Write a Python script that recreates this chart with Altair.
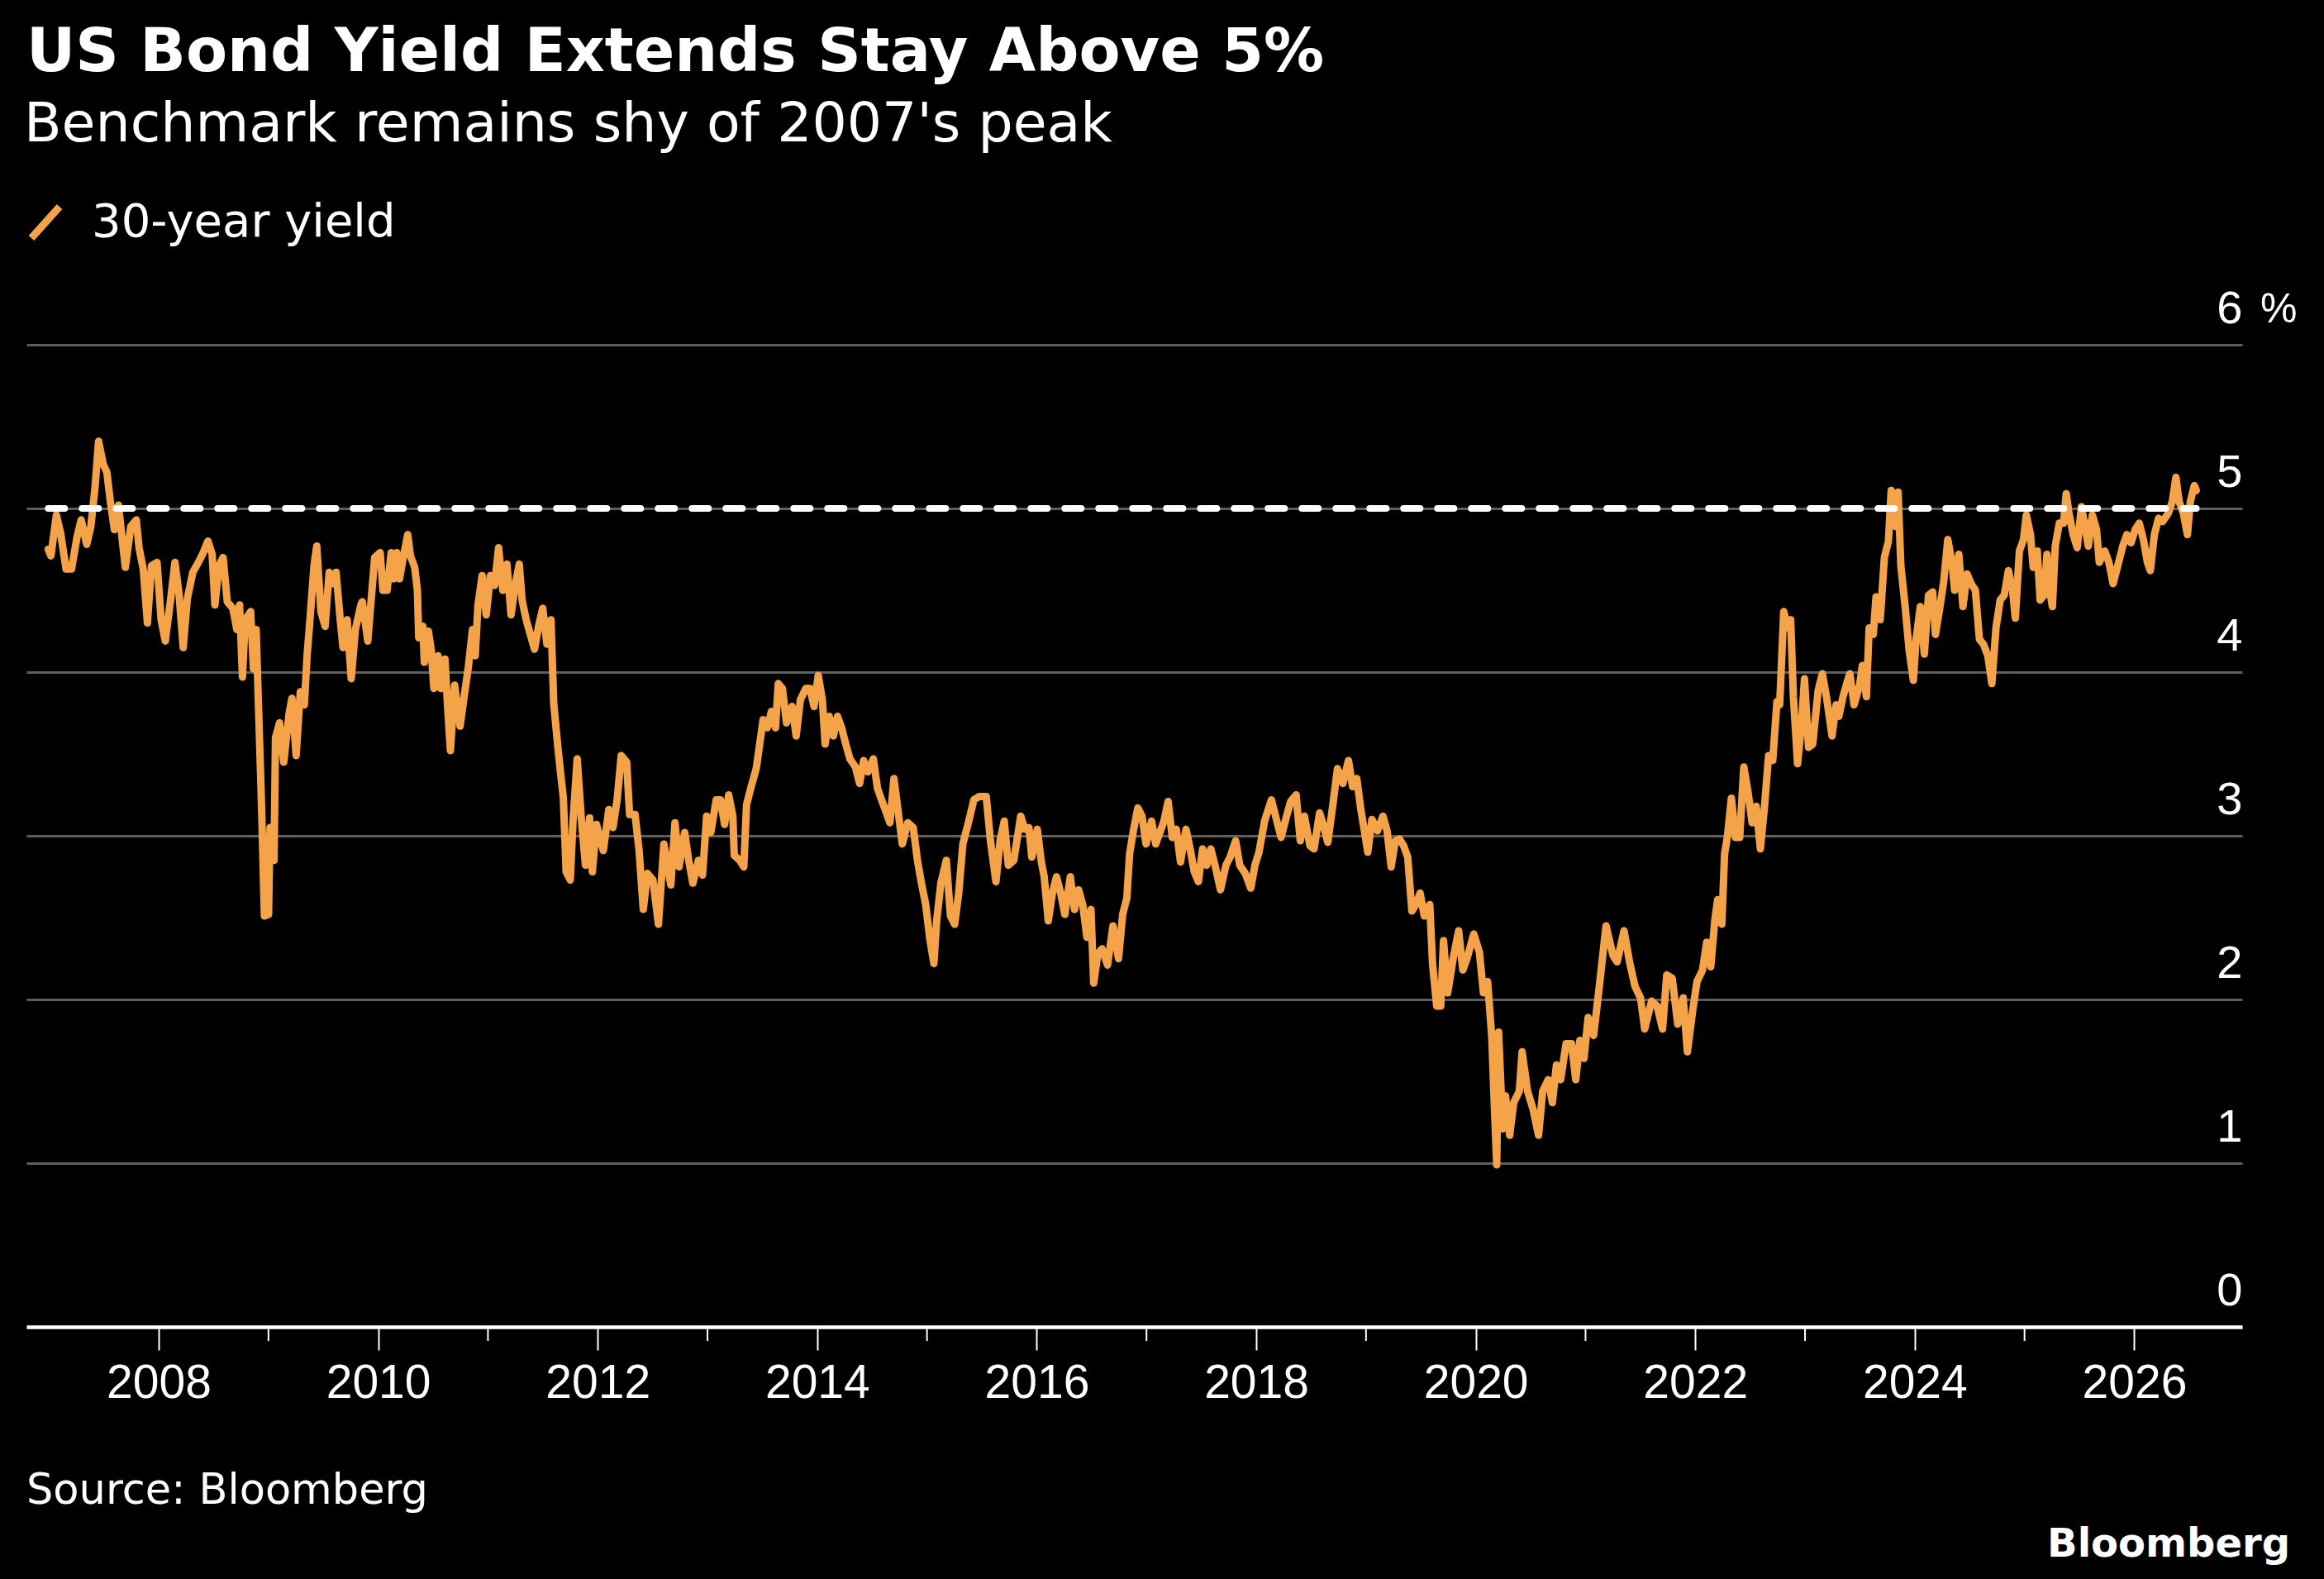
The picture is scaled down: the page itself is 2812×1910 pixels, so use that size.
import altair as alt
import pandas as pd

# 30-year US Treasury yield, % — (fractional year, yield) pairs
yield_2007_2009 = [
    (2006.993, 4.75), (2007.018, 4.71), (2007.068, 4.96), (2007.106, 4.85), (2007.156, 4.63),
    (2007.206, 4.63), (2007.257, 4.83), (2007.294, 4.93), (2007.344, 4.78), (2007.382, 4.89),
    (2007.420, 5.13), (2007.452, 5.41), (2007.495, 5.27), (2007.528, 5.22), (2007.558, 5.05),
    (2007.596, 4.87), (2007.633, 5.02), (2007.696, 4.64), (2007.746, 4.89), (2007.796, 4.93),
    (2007.821, 4.76), (2007.859, 4.63), (2007.897, 4.30), (2007.934, 4.65), (2007.985, 4.67),
    (2008.022, 4.32), (2008.060, 4.19), (2008.110, 4.45), (2008.148, 4.67), (2008.185, 4.48),
    (2008.223, 4.15), (2008.261, 4.45), (2008.311, 4.61), (2008.361, 4.67), (2008.399, 4.72),
    (2008.449, 4.80), (2008.487, 4.72), (2008.512, 4.41), (2008.549, 4.65), (2008.587, 4.70),
    (2008.625, 4.43), (2008.675, 4.39), (2008.712, 4.26), (2008.737, 4.41), (2008.763, 3.97),
    (2008.788, 4.32), (2008.838, 4.37), (2008.863, 4.02), (2008.888, 4.26), (2008.913, 3.71),
    (2008.938, 3.16), (2008.963, 2.51), (2009.001, 2.52), (2009.014, 3.05), (2009.051, 2.85),
    (2009.064, 3.60), (2009.101, 3.69), (2009.139, 3.45), (2009.189, 3.75), (2009.214, 3.84),
    (2009.252, 3.49), (2009.290, 3.88), (2009.327, 3.80), (2009.352, 4.10), (2009.378, 4.32),
    (2009.415, 4.65), (2009.440, 4.77), (2009.478, 4.37), (2009.516, 4.28), (2009.553, 4.61),
    (2009.591, 4.54), (2009.616, 4.61), (2009.654, 4.32), (2009.679, 4.15), (2009.717, 4.32),
    (2009.754, 3.96), (2009.792, 4.26), (2009.842, 4.41),
]

yield_2010_2012 = [
    (2009.855, 4.43), (2009.905, 4.19), (2009.943, 4.50), (2009.968, 4.70), (2010.018, 4.73),
    (2010.043, 4.50), (2010.081, 4.50), (2010.118, 4.73), (2010.143, 4.57), (2010.169, 4.73),
    (2010.194, 4.57), (2010.231, 4.71), (2010.269, 4.84), (2010.294, 4.71), (2010.332, 4.64),
    (2010.357, 4.50), (2010.369, 4.21), (2010.407, 4.28), (2010.420, 4.06), (2010.457, 4.25),
    (2010.482, 4.14), (2010.507, 3.90), (2010.545, 4.10), (2010.570, 3.90), (2010.608, 4.08),
    (2010.633, 3.78), (2010.658, 3.52), (2010.696, 3.92), (2010.746, 3.67), (2010.783, 3.85),
    (2010.821, 4.03), (2010.859, 4.26), (2010.884, 4.10), (2010.909, 4.41), (2010.947, 4.59),
    (2010.984, 4.35), (2011.022, 4.59), (2011.060, 4.53), (2011.097, 4.76), (2011.135, 4.50),
    (2011.173, 4.66), (2011.210, 4.35), (2011.248, 4.53), (2011.285, 4.66), (2011.311, 4.44),
    (2011.348, 4.32), (2011.386, 4.23), (2011.424, 4.14), (2011.461, 4.28), (2011.499, 4.39),
    (2011.537, 4.17), (2011.574, 4.32), (2011.599, 3.81), (2011.637, 3.54), (2011.662, 3.38),
    (2011.687, 3.23), (2011.712, 2.78), (2011.750, 2.73), (2011.775, 3.09), (2011.813, 3.47),
    (2011.850, 3.11), (2011.888, 2.82), (2011.926, 3.11), (2011.951, 2.78), (2011.988, 3.07),
    (2012.051, 2.91), (2012.101, 3.16), (2012.139, 3.05), (2012.177, 3.22), (2012.214, 3.49),
    (2012.264, 3.45), (2012.290, 3.13), (2012.340, 3.13), (2012.377, 2.91), (2012.415, 2.55),
    (2012.453, 2.77), (2012.503, 2.73), (2012.553, 2.46), (2012.603, 2.95),
]

yield_2013_2015 = [
    (2012.666, 2.70), (2012.704, 3.08), (2012.741, 2.81), (2012.792, 3.02), (2012.829, 2.85),
    (2012.867, 2.71), (2012.917, 2.85), (2012.955, 2.76), (2012.992, 3.12), (2013.030, 3.02),
    (2013.080, 3.22), (2013.118, 3.22), (2013.156, 3.07), (2013.193, 3.25), (2013.231, 3.12),
    (2013.244, 2.88), (2013.294, 2.85), (2013.331, 2.81), (2013.356, 3.19), (2013.394, 3.29),
    (2013.444, 3.41), (2013.482, 3.59), (2013.507, 3.71), (2013.545, 3.66), (2013.582, 3.76),
    (2013.620, 3.66), (2013.645, 3.93), (2013.683, 3.90), (2013.720, 3.69), (2013.771, 3.79),
    (2013.808, 3.61), (2013.846, 3.83), (2013.896, 3.90), (2013.934, 3.90), (2013.971, 3.79),
    (2014.009, 3.98), (2014.047, 3.83), (2014.072, 3.56), (2014.109, 3.73), (2014.147, 3.61),
    (2014.185, 3.73), (2014.222, 3.66), (2014.260, 3.56), (2014.298, 3.47), (2014.348, 3.42),
    (2014.386, 3.32), (2014.423, 3.46), (2014.461, 3.39), (2014.511, 3.47), (2014.549, 3.29),
    (2014.586, 3.22), (2014.624, 3.15), (2014.662, 3.08), (2014.699, 3.35), (2014.737, 3.15),
    (2014.775, 2.95), (2014.825, 3.08), (2014.875, 3.05), (2014.913, 2.85), (2014.950, 2.71),
    (2014.988, 2.58), (2015.026, 2.37), (2015.063, 2.22), (2015.088, 2.48), (2015.126, 2.71),
    (2015.176, 2.85), (2015.214, 2.51), (2015.252, 2.46), (2015.289, 2.65), (2015.327, 2.95),
    (2015.377, 3.08), (2015.427, 3.22),
]

yield_2016_2018 = [
    (2015.478, 3.24), (2015.540, 3.24), (2015.578, 2.97), (2015.628, 2.72), (2015.666, 2.97),
    (2015.704, 3.09), (2015.741, 2.82), (2015.791, 2.85), (2015.854, 3.12), (2015.892, 3.04),
    (2015.929, 3.05), (2015.955, 2.87), (2016.005, 3.04), (2016.042, 2.84), (2016.068, 2.75),
    (2016.105, 2.48), (2016.143, 2.65), (2016.180, 2.75), (2016.218, 2.65), (2016.256, 2.52),
    (2016.306, 2.75), (2016.344, 2.55), (2016.381, 2.67), (2016.419, 2.58), (2016.457, 2.38),
    (2016.494, 2.55), (2016.519, 2.10), (2016.557, 2.28), (2016.595, 2.31), (2016.645, 2.21),
    (2016.695, 2.45), (2016.745, 2.25), (2016.783, 2.52), (2016.821, 2.62), (2016.846, 2.89),
    (2016.883, 3.04), (2016.921, 3.17), (2016.959, 3.12), (2016.996, 2.95), (2017.046, 3.09),
    (2017.084, 2.95), (2017.122, 3.02), (2017.159, 3.09), (2017.197, 3.21), (2017.235, 2.99),
    (2017.272, 3.04), (2017.310, 2.84), (2017.360, 3.04), (2017.398, 2.92), (2017.435, 2.78),
    (2017.473, 2.72), (2017.511, 2.92), (2017.548, 2.82), (2017.586, 2.92), (2017.624, 2.82),
    (2017.674, 2.67), (2017.724, 2.82), (2017.762, 2.87), (2017.812, 2.97), (2017.850, 2.82),
    (2017.900, 2.77), (2017.950, 2.68), (2017.988, 2.82), (2018.025, 2.90), (2018.076, 3.09),
    (2018.138, 3.22), (2018.176, 3.12), (2018.226, 2.99), (2018.276, 3.12), (2018.314, 3.21),
]

yield_2019_2021 = [
    (2018.363, 3.25), (2018.401, 2.97), (2018.439, 3.12), (2018.489, 2.94), (2018.527, 2.92),
    (2018.577, 3.14), (2018.614, 3.06), (2018.652, 2.96), (2018.702, 3.21), (2018.740, 3.41),
    (2018.790, 3.32), (2018.840, 3.46), (2018.878, 3.30), (2018.916, 3.35), (2018.953, 3.16),
    (2018.978, 3.06), (2019.016, 2.90), (2019.054, 3.10), (2019.104, 3.03), (2019.154, 3.12),
    (2019.192, 3.03), (2019.229, 2.81), (2019.267, 2.97), (2019.305, 2.98), (2019.342, 2.94),
    (2019.380, 2.87), (2019.418, 2.54), (2019.455, 2.58), (2019.493, 2.65), (2019.531, 2.51),
    (2019.581, 2.58), (2019.606, 2.22), (2019.644, 1.96), (2019.681, 1.96), (2019.706, 2.36),
    (2019.744, 2.04), (2019.794, 2.25), (2019.844, 2.42), (2019.882, 2.18), (2019.920, 2.25),
    (2019.982, 2.40), (2020.033, 2.29), (2020.070, 2.04), (2020.108, 2.11), (2020.146, 1.77),
    (2020.171, 1.32), (2020.191, 0.99), (2020.208, 1.80), (2020.246, 1.21), (2020.271, 1.41),
    (2020.309, 1.17), (2020.346, 1.37), (2020.397, 1.44), (2020.422, 1.68), (2020.472, 1.44),
    (2020.522, 1.33), (2020.572, 1.17), (2020.610, 1.44), (2020.660, 1.51), (2020.698, 1.37),
    (2020.735, 1.60), (2020.773, 1.51), (2020.823, 1.73), (2020.873, 1.73), (2020.911, 1.51),
    (2020.949, 1.75), (2020.986, 1.64), (2021.024, 1.89), (2021.074, 1.78), (2021.124, 2.07),
    (2021.187, 2.45),
]

yield_2022_2023 = [
    (2021.250, 2.27), (2021.288, 2.23), (2021.351, 2.42), (2021.401, 2.23), (2021.451, 2.08),
    (2021.501, 2.01), (2021.539, 1.82), (2021.602, 1.99), (2021.652, 1.96), (2021.702, 1.82),
    (2021.740, 2.15), (2021.790, 2.13), (2021.840, 1.85), (2021.890, 2.01), (2021.928, 1.68),
    (2021.978, 1.94), (2022.016, 2.11), (2022.066, 2.18), (2022.104, 2.35), (2022.141, 2.20),
    (2022.179, 2.49), (2022.204, 2.61), (2022.242, 2.46), (2022.267, 2.89), (2022.292, 2.99),
    (2022.329, 3.23), (2022.367, 2.99), (2022.405, 2.99), (2022.442, 3.42), (2022.480, 3.27),
    (2022.518, 3.08), (2022.555, 3.18), (2022.593, 2.92), (2022.631, 3.18), (2022.668, 3.49),
    (2022.706, 3.46), (2022.744, 3.82), (2022.769, 3.80), (2022.806, 4.37), (2022.844, 4.27),
    (2022.869, 4.32), (2022.894, 3.85), (2022.932, 3.44), (2022.970, 3.70), (2022.995, 3.96),
    (2023.032, 3.54), (2023.070, 3.56), (2023.120, 3.89), (2023.158, 3.99), (2023.195, 3.85),
    (2023.246, 3.61), (2023.283, 3.80), (2023.308, 3.73), (2023.346, 3.85), (2023.384, 3.94),
    (2023.409, 3.99), (2023.447, 3.80), (2023.497, 3.92), (2023.522, 4.04), (2023.559, 3.85),
    (2023.584, 4.27), (2023.622, 4.23), (2023.647, 4.46), (2023.685, 4.32), (2023.723, 4.70),
    (2023.760, 4.80), (2023.785, 5.11), (2023.823, 4.89), (2023.848, 5.10), (2023.873, 4.65),
]

yield_2024_2026 = [
    (2023.912, 4.40), (2023.949, 4.13), (2023.987, 3.95), (2024.012, 4.20), (2024.050, 4.40),
    (2024.087, 4.11), (2024.125, 4.47), (2024.163, 4.49), (2024.188, 4.23), (2024.225, 4.38),
    (2024.263, 4.55), (2024.301, 4.81), (2024.338, 4.67), (2024.363, 4.50), (2024.401, 4.72),
    (2024.439, 4.40), (2024.476, 4.60), (2024.514, 4.54), (2024.552, 4.50), (2024.589, 4.20),
    (2024.627, 4.17), (2024.665, 4.10), (2024.702, 3.93), (2024.740, 4.27), (2024.778, 4.44),
    (2024.815, 4.47), (2024.853, 4.62), (2024.891, 4.50), (2024.916, 4.33), (2024.953, 4.74),
    (2024.991, 4.81), (2025.016, 4.96), (2025.054, 4.84), (2025.079, 4.64), (2025.116, 4.74),
    (2025.142, 4.44), (2025.179, 4.47), (2025.204, 4.72), (2025.229, 4.50), (2025.254, 4.40),
    (2025.280, 4.77), (2025.317, 4.91), (2025.355, 4.91), (2025.380, 5.09), (2025.405, 4.97),
    (2025.443, 4.84), (2025.480, 4.76), (2025.518, 5.01), (2025.543, 4.92), (2025.581, 4.77),
    (2025.618, 4.96), (2025.656, 4.87), (2025.681, 4.67), (2025.731, 4.74), (2025.769, 4.67),
    (2025.807, 4.54), (2025.857, 4.67), (2025.895, 4.77), (2025.932, 4.84), (2025.970, 4.79),
    (2026.008, 4.87), (2026.045, 4.91), (2026.083, 4.81), (2026.120, 4.67), (2026.146, 4.62),
    (2026.183, 4.84), (2026.221, 4.94), (2026.258, 4.92), (2026.309, 4.97), (2026.346, 5.04),
    (2026.379, 5.19), (2026.409, 5.04), (2026.447, 4.97), (2026.484, 4.84), (2026.510, 5.04),
    (2026.547, 5.14), (2026.565, 5.11),
]

SERIES = "30-year yield"
THRESHOLD = 5.0
x_major = [2008, 2010, 2012, 2014, 2016, 2018, 2020, 2022, 2024, 2026]
x_minor = [2009, 2011, 2013, 2015, 2017, 2019, 2021, 2023, 2025]
y_ticks = [0, 1, 2, 3, 4, 5, 6]

TITLE = "US Bond Yield Extends Stay Above 5%"
SUBTITLE = "Benchmark remains shy of 2007's peak"
SOURCE = "Source: Bloomberg"
BRAND = "Bloomberg"

# ---- styling ----
W, H = 2681, 1188
PAD = {"left": 32, "top": 417, "right": 2812 - 32 - W, "bottom": 1910 - 417 - H}
ORANGE = "#F4A349"
GRID = "#5e5e5e"
TEXT_FONT = "DejaVu Sans"
AXIS_FONT = "Liberation Sans Narrow, Liberation Sans, sans-serif"

points = (yield_2007_2009 + yield_2010_2012 + yield_2013_2015 + yield_2016_2018
          + yield_2019_2021 + yield_2022_2023 + yield_2024_2026)
df = pd.DataFrame(points, columns=["year", "value"])
df["series"] = SERIES

x_scale = alt.Scale(domain=[2006.795, 2026.983], nice=False, zero=False)
y_scale = alt.Scale(domain=[0, 6], nice=False, zero=True)

x_axis = alt.Axis(
    values=x_major, format="d", title=None, grid=False,
    domain=True, domainColor="white", domainWidth=4.5,
    ticks=True, tickColor="white", tickWidth=2, tickSize=28,
    labelFont=AXIS_FONT, labelFontSize=57, labelColor="white",
    labelPadding=12, labelFlush=False, labelOverlap=False,
)
y_axis = alt.Axis(
    orient="right", values=y_ticks, title=None,
    grid=True, gridColor=GRID, gridWidth=3,
    domain=False, ticks=False, tickSize=0,
    labelAlign="right", labelBaseline="alphabetic", labelOffset=-27, labelPadding=0,
    labelFont=AXIS_FONT, labelFontSize=56, labelColor="white",
    labelFlush=False, labelOverlap=False, labelBound=False,
)

legend = alt.Legend(
    title=None, orient="none", legendX=-5, legendY=-176, padding=0,
    symbolType="M-0.9,1L0.9,-1", symbolSize=1444, symbolStrokeWidth=9,
    symbolStrokeColor=ORANGE, labelFont=TEXT_FONT, labelFontSize=56,
    labelColor="white", labelOffset=28, labelLimit=0,
)

line = alt.Chart(df).mark_line(strokeWidth=9, strokeJoin="round", strokeCap="round").encode(
    x=alt.X("year:Q", scale=x_scale, axis=x_axis),
    y=alt.Y("value:Q", scale=y_scale, axis=y_axis),
    color=alt.Color("series:N", scale=alt.Scale(domain=[SERIES], range=[ORANGE]), legend=legend),
)

# dashed 5% marker spanning the data range
thr_df = pd.DataFrame({"year": [points[0][0]], "year_end": [points[-1][0]], "value": [THRESHOLD]})
threshold = alt.Chart(thr_df).mark_rule(
    color="white", strokeWidth=8, strokeDash=[20, 21], strokeCap="round"
).encode(
    x=alt.X("year:Q", scale=x_scale, axis=x_axis),
    x2="year_end:Q",
    y=alt.Y("value:Q", scale=y_scale, axis=y_axis),
)

# short ticks for odd years
minor = alt.Chart(pd.DataFrame({"year": x_minor})).mark_rule(color="white", strokeWidth=2).encode(
    x=alt.X("year:Q", scale=x_scale, axis=x_axis),
    y=alt.value(H),
    y2=alt.value(H + 17),
)

# unit marker next to the top label
unit = alt.Chart(pd.DataFrame({"value": [6], "label": ["%"]})).mark_text(
    align="left", baseline="alphabetic", dy=-27, font=AXIS_FONT, fontSize=50, color="white"
).encode(
    y=alt.Y("value:Q", scale=y_scale, axis=y_axis),
    x=alt.value(W + 22),
    text="label:N",
)


def text_layer(txt, x, y, size, weight="normal", align="left"):
    return alt.Chart(pd.DataFrame({"label": [txt]})).mark_text(
        align=align, baseline="alphabetic", font=TEXT_FONT, fontSize=size,
        fontWeight=weight, color="white",
    ).encode(text="label:N", x=alt.value(x), y=alt.value(y))


title = text_layer(TITLE, 0, 86 - 417, 73, "bold")
subtitle = text_layer(SUBTITLE, -3, 171 - 417, 66.5)
source = text_layer(SOURCE, 0, 1819 - 417, 51)
brand = text_layer(BRAND, 2771 - 32, 1883 - 417, 48, "bold", "right")

chart = alt.layer(line, threshold, minor, unit, title, subtitle, source, brand).properties(
    width=W, height=H, padding=PAD,
    autosize=alt.AutoSizeParams(type="none"),
).configure(background="black").configure_view(stroke=None)

chart.save("out.html", embed_options={"renderer": "svg", "actions": False})
